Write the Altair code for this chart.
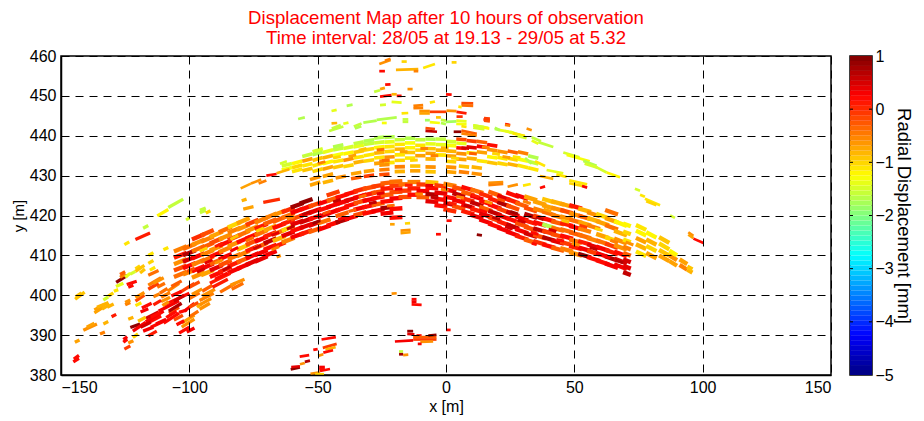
import altair as alt
import pandas as pd

title_lines = ["Displacement Map after 10 hours of observation",
               "Time interval: 28/05 at 19.13 - 29/05 at 5.32"]
x_ticks = [-150, -100, -50, 0, 50, 100, 150]
y_ticks = [380, 390, 400, 410, 420, 430, 440, 450, 460]
bar_ticks = [-5, -4, -3, -2, -1, 0, 1]
jet_domain = [-5, -4.25, -2.75, -1.25, 0.25, 1]
jet_range = ["#00007f", "#0000ff", "#00ffff", "#ffff00", "#ff0000", "#7f0000"]

# single strips: x0, y0, x1, y1, value
far_left = [
(-145.2,383.3,-143,384.2,.2),(-145,384,-143,384.9,.2),(-144.6,388.2,-142.8,388.8,-.7),
(-144.5,399,-140.8,400.8,-.9),(-144.3,399.6,-142,400.6,-.9),(-141.3,391.2,-136,392.8,-.6),
(-140,392,-137,393,-.7),(-137,395.6,-133.5,397,-.7),(-137,396.3,-133,397.7,-.7),
(-136,397,-131.5,398.2,-.8),(-134,396.5,-131,397.7,-.8),(-132,397,-129.5,397.8,-.8),
(-134.8,390.3,-132.9,390.8,-.5),(-133.5,392.8,-131.6,393.4,-.8),(-130.3,394.6,-128.5,395.2,.1),
(-133.5,398.8,-131.6,399.6,-1.5),(-131.6,399.8,-129.6,400.6,-1),(-129.4,401,-127.7,401.4,-1.1),
(-128.6,402.2,-125.7,403,-1.4),(-128.5,403.2,-124.2,405,.9),(-127,404.5,-125,405.3,-.5),
(-127,405.2,-125,405.9,-.3),(-124.4,402.7,-120.5,403.5,.2),(-123.8,402,-121.8,402.5,.2),
(-125,404.5,-123,405.5,-1.4),(-123,405.3,-121,406,-1.5),(-121,406.6,-119.2,407.4,-1),
(-121,406,-117.5,407.5,-.9),(-119.2,405.6,-117.3,406.6,-.9),(-116,410,-114,410.7,-1.1),
(-116,408,-114,408.7,-1),(-115.4,406.3,-113.3,407,-1.1),(-125.3,412.7,-123.4,413.4,-1.1),
(-121,414,-115.3,415.6,.1),(-118,416.8,-116,417.5,-1.6),(-112.5,419.9,-108.2,421.5,-1.2),
(-108.2,422,-102.4,424.1,-1.6),(-101.3,418.9,-99.8,419.4,-1.5),(-95.9,420.7,-93.6,421.3,-1.6),
(-95.9,421.3,-93.6,421.9,-1.6),(-93.6,420.6,-91.8,421.2,-1),(-110.1,411.4,-108.2,412,-1.1),
(-79,421.6,-75,422.2,-.7),(-71.2,423.3,-64.7,424.1,0),(-79.6,423.7,-77.7,424.1,-.8),
(-66,409.6,-64.4,410,-.6),
(-125.7,388.2,-124.2,389,.2),(-125.7,388.9,-124.2,389.6,.3),(-125.3,386.5,-123,387.3,-.1),
(-123.8,388,-121.8,388.6,-.6),(-123.8,394,-121.8,394.5,-.8),(-125,397.6,-123,398.2,-.5),
(-125,398.2,-123,398.8,-.6),
(-122,389.4,-120,390.3,-1),(-123,391.9,-119.2,392.8,.9),(-122,391,-117,393.2,.3),
(-118,392.5,-111,394.8,.2),(-117,393.3,-110,396,.3),(-117,394.2,-112,395.8,.5),
(-115,392,-110,393.5,.2),(-118,391,-114,392,.3),(-116,389.8,-112.7,391,.1),
(-110,393,-104,395.5,.2),(-108,395.5,-104,397,-.2),(-104,390.5,-100,392,.2),
(-103,392,-98,394,-.6),(-103,393,-98,395,-.7),(-104,395.7,-101,396.3,.2),
(-102,396,-98,398,.3),(-112,396,-104,398.6,.3),(-110,397.5,-100,400.5,.2),
(-108,396,-103,398,.7),(-106,398.5,-102,400,.5),(-112.5,402,-109.5,403,-.4),
(-111.5,400.5,-108.5,401.7,-.4),(-111,399.5,-107.5,400.7,-.5),(-111,398.4,-107.5,399.5,-.6),
(-110.5,397.4,-108,398.4,-.6),(-108.5,401,-104,403,-.5),(-104,400.6,-98,403,-.1),
(-116,402.5,-111,404.4,-.5),(-116,401.5,-112,403,-.1),(-116,405,-112,406.2,-.4),
(-121,398.5,-117.5,400,-.2),(-121,399.4,-117.5,400.7,-.6),(-121,397.4,-118.7,398.1,-1.1),
(-118.5,396.8,-114.7,398,.2),(-119,395.8,-116,396.6,.3),(-114,397.6,-111,398.7,.1),
(-97,397,-95,398,-.8),(-96,396.5,-92,398,-.6),(-96,397.6,-91.5,399.2,-.6),
(-96,398.7,-90.5,400.5,-.5),(-95,399.8,-90,401.5,-.6),(-95,401,-91,402.5,-.3),
(-91,402,-85,404,.1),(-92,403,-84,405.5,.1),(-90,404,-85,405.6,.2),(-88,400.8,-82,403,-.4),
(-84,402.5,-78.5,404,-.6),(-83.5,401.5,-79,403,-.4),
(-119,392,-115,393.2,.5),(-115,394.5,-111,395.8,.2),(-113,392.8,-109,394,.3),(-120,393.5,-117,394.5,-.9),
(-109,394.4,-105,396,.2),(-106,393.8,-102.5,395,-.2),(-105,392.6,-102,393.6,.2),(-101,390.8,-98,391.8,.3),
(-100,394.6,-96.5,396,-.4),(-100,397,-96.5,398.2,-.2),(-100,399.2,-96,400.6,-.4),(-99,400.2,-95,401.6,-.6),
(-100,402,-96,403.4,-.2),(-107,402.2,-103,403.6,-.3),(-114,399.6,-111.5,400.4,-.5),(-114,403,-110,404.4,-.6),
(-107,399.8,-103,401,.2),
]

# main band columns: x0, x1, rise over the column, [(y at x0, value), ...]
main_left = [
(-106,-99,1.8,[(404.6,-.4),(406.2,-.2),(407.8,-.6),(409.4,.1),(411,-.5)]),
(-102.5,-95.5,1.8,[(405.2,-.5),(406.8,.2),(408.4,.5),(410,.7),(411.6,-.4)]),
(-99,-92,1.9,[(404.4,-.6),(406,.2),(407.6,-.5),(409.2,.3),(411,-.4),(412.6,-.6),(414,.0)]),
(-95.5,-88.5,1.9,[(405,-.7),(406.6,.3),(408.4,-.4),(410,-.5),(411.8,-.3),(413.4,-.5),(415,-.2)]),
(-92,-85,1.9,[(404.6,.2),(406.2,.4),(407.8,-.3),(409.6,.2),(411.2,-.6),(413,-.2),(414.6,-.7)]),
(-88.5,-81.5,1.9,[(405.8,.1),(407.4,-.2),(409,.3),(410.8,-.5),(412.4,.2),(414,-.6),(415.8,-.4)]),
(-85,-78,1.9,[(405.6,.3),(407.2,.1),(409,-.4),(412.2,-.6),(413.8,-.1),(415.6,-.5),(417,-1)]),
(-81.5,-74.5,1.9,[(406.6,.3),(408.2,-.3),(409.8,-.5),(411.4,-.9),(413.2,.2),(414.8,-.4),(416.4,-.6),(418,-.7)]),
(-78,-71,1.9,[(407.6,.4),(409.2,.3),(411,.1),(412.6,-.2),(414.2,.2),(416,-.6),(417.6,-.1)]),
(-74.5,-67.5,1.9,[(408.4,.4),(410,.3),(411.8,-.3),(413.4,.3),(415,-.4),(416.6,.1),(418.2,-.5)]),
(-71,-64,1.8,[(409.8,.3),(411.4,.2),(413,.6),(414.6,.1),(416.2,-.7),(417.8,-.3),(419.2,-.5)]),
(-67.5,-60.5,1.8,[(412,.1),(413.6,-.8),(415.2,-.4),(416.8,.2),(418.4,-.3),(420,-.6)]),
(-64,-57,1.7,[(413.2,-.5),(414.8,.4),(416.2,-1),(417.8,.1),(419.4,-.4),(420.8,.0)]),
(-60.5,-53.5,1.6,[(414.4,.3),(416,.2),(417.6,.4),(419,-.2),(420.6,.3),(422,.8)]),
(-57,-50,1.6,[(415.2,.1),(416.8,.4),(418.2,.5),(419.8,.2),(421.4,.2),(423,.9)]),
(-53.5,-46.5,1.6,[(415.8,-.3),(417.4,.4),(419,.2),(420.6,.4),(422.2,-.2)]),
(-50,-43,1.5,[(416.4,.3),(418,-.4),(419.6,.4),(421.2,.2),(422.8,.3)]),
(-46.5,-39.5,1.5,[(417.4,.2),(420.4,.3),(422,.3),(423.6,-.3),(425,-.1)]),
(-43,-36,1.4,[(418.2,.7),(419.8,-.3),(421.2,.2),(422.8,.3),(424.4,.2)]),
(-39.5,-32.5,1.3,[(419,.3),(422.2,.2),(423.6,.4),(425.2,.2)]),
(-36,-29,1.2,[(420,-.2),(421.4,.3),(423,-.2),(424.4,.3),(426,.0)]),
(-32.5,-25.5,1,[(420.4,.2),(422,.2),(423.6,.3),(425,.1),(426.6,-.2)]),
(-29,-22,.8,[(421,.3),(422.6,-.3),(424.2,.2),(425.6,-.2),(427.2,-.1)]),
(-25.5,-18.5,.5,[(420.4,.3),(421.8,.8),(423.4,.2),(425,-.3),(426.6,.1),(428,-.3)]),
(-22,-15,.3,[(419.4,.2),(421.6,.2),(424.2,.3),(425.8,-.2),(427.4,-.1),(428.4,-.4)]),
(-18.5,-11.5,.1,[(424.6,-.2),(426.2,-.1),(427.8,-.4)]),
(-15,-8,0,[(425.2,.2),(426.8,.1),(428.4,-.5)]),
(-11.5,-4.5,-.1,[(424.6,-.3),(426.2,.3),(427.8,-.1)]),
(-8,-1,-.3,[(423.6,.4),(425.4,.7),(427,.2),(428.4,-.9)]),
(-4.5,2.5,-.5,[(422.6,.2),(424.2,.2),(425.8,.4),(427.6,-.1)]),
]
main_right = [
(-1,6,-.9,[(421.6,.0),(423.2,.5),(424.8,.2),(426.6,.3),(428,-.5)]),
(2.5,9.5,-1.1,[(422.4,-.2),(424,.3),(425.6,.6),(427.2,-.2)]),
(6,13,-1.3,[(421.2,.1),(422.8,.3),(424.4,.0),(426,-.3),(427.2,.2)]),
(9.5,16.5,-1.4,[(420.2,.4),(421.8,.1),(423.4,.6),(425,.3),(426.6,-.4)]),
(13,20,-1.5,[(419,.3),(420.6,.4),(422.2,-.3),(423.8,.2),(425.6,.0)]),
(16.5,23.5,-1.6,[(418,.2),(419.6,-.1),(421.2,.6),(422.8,.2),(424.4,.1),(426,-.3)]),
(20,27,-1.6,[(417,.3),(418.6,.1),(420.2,.4),(421.8,-.1),(423.4,.7),(425,.4)]),
(23.5,30.5,-1.6,[(416,.3),(417.8,.6),(419.4,.2),(421,.5),(422.6,-.2),(424.2,.1),(425.8,.2)]),
(27,34,-1.5,[(415,.1),(416.6,.3),(418.2,-.2),(419.8,.3),(423.2,-.3),(425.2,.3)]),
(30.5,37.5,-1.4,[(414,-.3),(415.6,.5),(417.2,-.2),(418.8,.1),(420.4,.7),(422,-.2),(424.8,-.7)]),
(34,41,-1.3,[(413.6,.0),(415.2,-.2),(416.8,.6),(418.4,.2),(420,-.1),(421.8,-.5),(423.6,-.7)]),
(37.5,44.5,-1.3,[(412.8,.2),(414.6,.7),(416.2,-.1),(417.8,-1.7),(419.4,.2),(421,-.4),(422.6,-.7),(424.2,-.9)]),
(41,48,-1.2,[(412,-.3),(413.8,.4),(415.4,-.2),(417,-.4),(418.6,-.3),(420.2,-.5),(422,-.6),(423.6,-.8)]),
(44.5,51.5,-1.2,[(411.8,-.5),(413.4,-.1),(415,.2),(416.6,-.4),(418.2,.1),(419.8,-.6),(421.4,-.2),(423,-.7)]),
(48,55,-1.2,[(410.8,-.6),(412.4,.1),(414,-.4),(415.8,-.3),(417.4,.2),(419,-.4),(420.6,-.6),(422.6,.1)]),
(51.5,58.5,-1.3,[(410.4,.9),(412,.3),(413.6,.1),(415.2,-.4),(416.8,-.5),(418.4,-.7),(420,-.3),(421.8,-.8)]),
(55,62,-1.4,[(409.6,.2),(411.2,-.1),(412.8,.4),(414.4,-.5),(417.6,-.5),(419.4,-.8),(420.8,-.6)]),
(58.5,65.5,-1.5,[(408.8,.2),(410.6,.3),(412.2,.3),(413.8,-.4),(415.4,-.7),(418.6,-.7),(420.4,-1)]),
(62,69,-1.6,[(408,.3),(409.8,.7),(411.4,.1),(413,-.1),(414.6,-1),(417.6,-.4),(419.4,-.7),(421.4,-.4)]),
(65.5,72.5,-1.7,[(407.8,.3),(409.2,.5),(411,.2),(412.6,-.6),(414.2,-.6),(416.2,-.8),(418.6,-1.2)]),
(69,74,-1.2,[(405.8,.6),(407.4,.4),(409,.5),(410.6,-.3),(412.2,-.5),(414,-1.1),(416,-1),(418,-1.2)]),
(74,80,-1.8,[(411,-1.1),(412.8,-.8),(414.4,-.7),(416.2,-1.2),(417.6,-1.1)]),
(78,84,-2,[(410.6,-.7),(412.4,-1),(414,-.8),(415.8,-1.2)]),
(83,89,-2.2,[(410,-.7),(411.4,-.9),(413,-1),(414.6,-.9)]),
(87,92,-2,[(408.6,-.7),(410,-.6),(411.2,-1.2)]),
(91,96,-2,[(407.6,-.5),(409,-.7)]),
(94,98,-1.4,[(406.4,-.8),(407.2,-.9)]),
]

# yellow-green upper arch: same format
arch = [
(-64,-58,1,[(431.4,-1.3),(432.4,-1.5)]),
(-60,-54,1,[(431,-1.1),(432,-1),(433,-1.2)]),
(-56,-50,1,[(431.2,-.9),(432.4,-1.1),(433.6,-.7),(434.8,-1.6)]),
(-52,-46,1.1,[(431,-1),(432.4,-1.1),(433.8,-.9),(435.2,-1.7),(436,-1.5)]),
(-48,-42,1,[(431.6,-.7),(433,-1.2),(434.4,-.8),(435.8,-1.4)]),
(-44,-38,.8,[(432,-.9),(433.4,-1.1),(435,-1.3),(436.4,-1.6),(437.2,-1.7)]),
(-40,-34,.8,[(432.2,-1),(433.8,-.6),(435.4,-1.2),(436.8,-1.5)]),
(-36,-30,.7,[(433.2,-.8),(434.4,-1.1),(435.8,-.9),(437.2,-1.4),(438,-1.6)]),
(-32,-26,.6,[(433.6,-1),(435,-1.1),(436.4,-1),(437.8,-1.6),(438.6,-1.7)]),
(-28,-22,.4,[(433,-.7),(434.4,-1.1),(435.6,-.8),(437,-1.2),(438.2,-1.5),(439.4,-1.7)]),
(-24,-18,.2,[(433.2,-1.1),(434.6,-.6),(436,-1),(437.2,-1.1),(438.4,-1.4),(439.6,-1.7)]),
(-20,-14,.1,[(433.8,-1),(435.2,-1.1),(436.6,-.8),(437.8,-1.1),(439,-1.6)]),
(-16,-10,0,[(434.4,-1.1),(435.8,-.9),(437,-1.2),(438.2,-1.3),(439.4,-1.7)]),
(-12,-6,0,[(435,-.7),(436.4,-1),(437.6,-1.1),(439,-1.6)]),
(-8,-2,-.1,[(434.2,-.8),(435.6,-.7),(436.8,-.9),(438,-1.4),(439.2,-1.7)]),
(-4,2,-.1,[(435.2,-1.1),(436.4,-.8),(437.8,-1.4),(439.2,-1.6)]),
(0,6,-.2,[(435,-.7),(436.2,-.8),(437.6,-1.3),(438.6,-1.5)]),
(4,10,-.3,[(434.2,-.7),(435.6,-.6),(437,.2),(438.2,-1.4),(439.2,-.2)]),
(8,14,-.4,[(434.4,-.8),(435.8,-1.1),(437.2,.4),(438.8,-.1)]),
(12,18,-.5,[(433.8,-1.1),(436,-.7),(437.4,.3),(438.6,-.3)]),
(16,22,-.6,[(433.4,-.9),(434.8,-1.2),(436.6,-.6),(437.8,.2)]),
(20,26,-.7,[(433.2,-1),(434.6,-1.1),(436.2,-.6)]),
(24,30,-.8,[(433,-.8),(434.4,-1),(436.2,-.3)]),
(28,34,-.9,[(432.6,-1.1),(434.2,-1.3),(436,-.5)]),
(32,38,-1,[(432,-1.1),(433.6,-1.6),(435,-1.7)]),
]

# orange lower arch: same format
lower_arch = [
(-53,-47,1.2,[(427.6,-.7),(429,-.6)]),
(-48,-42,1,[(428.2,-.8),(429.8,-.7)]),
(-43,-37,.8,[(429.4,-.6)]),
(-37,-31,.7,[(429.2,-.3),(430.4,-.7)]),
(-32,-26,.5,[(429.8,-.1),(431,-.7)]),
(-26,-20,.3,[(430.2,-.2),(431.4,-.5),(432.6,-.6),(433.6,-.5)]),
(-20,-14,.1,[(431,-.8),(432.2,-.5)]),
(-14,-8,0,[(431.2,-.7),(432.4,-.9)]),
(-8,-2,-.1,[(431,-.9),(432.2,-.6)]),
(0,6,-.3,[(431,-.7),(432.2,-.6),(433.6,-1)]),
(5,11,-.4,[(431,-.5),(432.4,-.9)]),
(10,16,-.5,[(430.6,-.6),(432.2,-.8)]),
]

# short cells that sit between the column rows of the main band
band_cells = [
(-101,406,-98,406.8,-.2),(-97,405.8,-94,406.7,.5),(-94,408,-91,408.9,.4),(-90,408,-87,408.9,-.6),(-87,406.2,-84,407.2,.6),
(-96,411,-93,411.9,-1),(-90,412.2,-87,413.1,.1),(-84,411,-81,412,.3),(-84,414,-81,415,-.9),(-78,413.6,-75,414.5,-.4),
(-75,411.6,-72,412.5,.5),(-74,416,-71,416.9,-1),(-68,415,-65,415.8,.4),(-68,411.4,-65,412.2,-.5),(-62,416.6,-59,417.4,.6),
(-62,419,-59,419.7,-.5),(-56,420.2,-53,420.9,.6),(-52,418,-49,418.7,.8),(-48,420.4,-45,421.1,-.2),(-44,423.4,-41,424,.6),
(-42,419,-39,419.6,.3),(-38,421,-35,421.5,-.3),(-34,424.6,-31,425.1,-.4),(-30,423,-27,423.4,.6),(-27,425.4,-24,425.7,.4),
(-23,422.4,-20,422.6,-.4),(-20,426.6,-17,426.7,.3),(-16,427.6,-13,427.6,.1),(-12,425.4,-9,425.4,-.5),(-8,427.6,-5,427.5,.4),
(-6,424.6,-3,424.4,.6),(-2,426.6,1,426.3,-.5),(1,423.2,4,422.8,.1),(4,424.8,7,424.4,-.5),(7,422.6,10,422.2,.6),
(10,425.2,13,424.6,.1),(13,421.4,16,420.8,.2),(15,423.6,18,423,-.6),(18,419.6,21,419,.6),(20,424.2,23,423.6,-.2),
(23,417.2,26,416.6,.5),(25,421,28,420.4,.8),(28,418.8,31,418.2,.5),(30,423.6,33,423,-.5),(33,415.8,36,415.3,.2),
(35,419.6,38,419,.6),(38,421.6,41,421,-.7),(40,416.6,43,416,.5),(43,414,46,413.6,.2),(45,418.8,48,418.3,-.9),
(49,413,52,412.5,-.6),(52,417.6,55,417,-.1),(56,412,59,411.4,.6),(58,416.8,61,416.2,-1),(61,410,64,409.4,.3),
(64,413.8,67,413.1,-.5),(66,408.8,69,408.1,.7),(70,413.4,73,412.6,-.6),
]
arch_cells = [
(-50,433,-47,433.5,-.5),(-44,434.4,-41,434.8,-1),(-38,434.8,-35,435.2,-.7),(-34,436.4,-31,436.8,-.9),(-27,436.4,-24,436.6,-.4),
(-25,433.8,-22,433.9,-.4),(-18,436,-15,436,-.7),(-14,433.8,-11,433.9,-1),(-10,436.8,-7,436.8,-.5),(-6,435,-3,435,-.5),
(-2,437,1,436.9,-.8),(2,434.4,5,434.3,-1),(6,437,9,436.8,.5),(9,435.6,12,435.4,-.3),(14,437.2,17,437,-.5),(18,435.6,21,435.3,-1),
(22,434.8,25,434.5,-.7),(26,434.8,29,434.5,-1.1),
]

arch_extra = [
(-66,430.6,-61,431.6,-.8),(-70,430,-66,430.4,.2),(-73,428,-70,428.8,-.5),
(-80,426.8,-76,428,-.7),(-76,428,-72,429,-.6),
(-64.7,433,-62,433.6,-1.5),
(16.5,428.2,22.3,428.4,-.6),(16.5,427.6,22.3,427.9,-.5),(24,427.2,28,427.8,-.6),(30,427.5,33,427.9,-1.1),(36.6,426.9,38.6,427.3,.2),
(36.6,429.9,41.8,429.2,-.8),(39.2,431.4,45.7,430.6,-1.4),(43,430.3,47,429.7,-1.1),(48,428.8,55,427.8,-1.1),(48,428.1,54,427.3,-1),(53,427.4,55,427,.3),
(45.7,435.8,52,434.6,-1.5),(47,435.2,56,433.6,-1.3),(53.5,433.7,58.7,432.5,-1.7),(54,433,59,432,-1.5),(57.4,432.5,62.6,430.8,-1.5),(62.6,430.8,67.8,429.6,-1.2),
(73.6,426.7,75.6,426.2,-1.5),(75.6,425.2,77.5,424.7,-1.1),(77.5,424.2,83.4,422.6,-1.1),(78,423.6,82,422.6,-1),
(87.3,420,89.2,419.4,-1.5),(94.4,415.8,96.4,414.9,-.6),(94.4,415.2,96.4,414.3,-.7),(96.4,414.2,100.3,413.1,.2),
(33.4,439.6,37,438.6,-1.6),(36,438.4,41.8,437.2,-1.6),(33.4,438.8,36,438,-1.4),
(10.6,442.6,16.5,442,-1.5),(10.6,442,15,441.6,-1.5),(19,442,21,441.4,-1.7),(23,441.2,30.8,439.8,-1.2),(25,441,29,440.2,-1.6),
(31.4,441.8,33.4,441.4,-.6),(23,442.9,25,442.7,.1),(14.6,444.1,17,443.9,.2),
(30.8,434.4,33.4,433,-1.7),(34.7,433.6,38.6,432.4,-1.1),
(-8,441.9,-4.3,441.7,-.2),(-8,441.2,-3.5,441,.6),
(3,441,6,441,.9),(6,441.3,12,440.5,-.3),(6,440.6,12,440,-.5),
]

sparse_top = [
(-26,458,-21.6,459,-.6),(-23.8,458.8,-21.6,459.3,-.5),(-17.3,458.6,-15.3,458.6,-1),(-8.9,457,-4.3,458,-1.1),
(2.2,458.4,4.1,458.4,-1),(-19.5,456.5,-10.8,456.7,-.8),(-12.6,456.2,-10.8,456.2,-.5),(-26,456.2,-23.8,456.2,.2),
(-23.7,452.8,-21.6,452.9,.2),(-28,451,-25.7,451.4,-1.6),(-25.7,451.7,-23.8,452,-.7),(-15,451.7,-13,451.7,-.6),
(-25.7,449.8,-21.2,450.2,.2),(-21.2,450.4,-19.2,450.4,-.8),(-19.2,450,-17.3,450,.2),(0,450.4,2.2,450.3,.2),
(-25.7,447.7,-23.4,447.8,-1.5),(-21.2,448.5,-17.3,448.3,-1.4),(-6.3,448.3,-4.3,448.6,-1.1),(6,448.2,10.6,448.1,-.2),
(6,447.6,10.6,447.5,-.4),(4.8,447.3,6.1,447.2,-1.1),(-12.7,447.5,-8.9,447.7,-.5),(-12.7,446.9,-8.9,447,-.5),
(-10.4,446.2,-6.3,446.2,-.6),(-10.4,445.6,-6.3,445.6,-.7),(-6.3,446,0.2,446,-.1),(0.2,446.3,4.1,446.2,-.6),(4.1,446,8,445.6,.1),
(-17.3,445.6,-14.7,445.7,-1.1),(-44.6,446.2,-42.6,446.5,-1.4),(-38.7,447.5,-36.4,447.8,-1.7),(-57.6,444.2,-55,444.6,-1.7),
(4.1,444.8,6.5,444.8,0),(14.8,444.4,17.1,444.3,-.1),(14.8,443.8,17.1,443.6,-.2),(-45.5,441.2,-40,442.3,-1.6),
(-44.5,441.8,-41,442.7,-1.6),(-40,443,-38,443.3,-1.4),(-44.6,443.1,-42.4,443.2,-.8),(-35.9,442.3,-32.9,443.1,-1.6),
(-35.5,441.8,-33,442.4,-1.7),(-32.2,443.3,-27,443.8,-1.7),(-27,444,-19.2,444.6,-1.7),(-25,443.2,-23.1,443.2,-1.3),
(-16.9,444.1,-14.7,444.1,-1.6),(-16.9,443.5,-14.7,443.5,-1.6),(-8.2,443.9,-6.3,443.9,-1.8),(-6.3,443.4,-2.4,443.2,-1.3),
(-3.9,444.6,-2,444.6,-.9),(-2,444,0,443.8,-1.6),(-2,443.2,0,442.9,-1.7),(0,443.5,4.1,443.6,-1.8),(4,443.8,8,443.6,-1.4),
(4,443,8,442.9,-1.3),(6,442.4,8,442.2,-1.1),(10.6,442.6,14.8,442.2,-1.5),(14.8,442,16.9,441.8,-1.2),(19,441.7,21,441.4,-1.7),
(21,441.4,26.2,440.8,-1.4),(26,440.6,30.7,440,-1.1),(23,442.7,25,442.5,-.5),(27.2,440,31.4,439.4,-1.5),
]

below = [
(-21.8,417.8,-20,417.8,-.7),(-16,418,-14,418.1,-1),(-17.7,416.2,-13.8,416.4,-.6),(-17.7,415.6,-13.8,415.8,-.7),
(-3.9,415.3,-2,415.3,.2),(0.2,418.7,2.2,418.7,.2),(12,415.2,14,415,.9),(33.4,413,35.3,412.7,.2),
(-21.2,400.4,-19.2,400.5,-.6),(-13.4,399,-11.5,399,.2),(-13.4,398.4,-11.5,398.4,.3),(-13.4,397.7,-9.5,397.6,.2),
(-15.1,391,-12.8,391,.9),(-15.1,390.3,-12.3,390.2,.4),(-11.5,389.9,-9.5,389.9,.2),(-19.9,388.4,-12.8,388.7,.3),
(-12.8,389.5,-3.7,389.5,-.3),(-12.8,388.9,-3.7,388.9,-.1),(-10,388.3,-5,388.4,-.6),(-6.9,389.9,-3.7,390.1,.9),
(-11,387.8,-9.5,387.8,.3),(0,391.3,1.8,391.3,.2),(-18.3,385.9,-16.7,385.9,-1.6),(-18.3,385.2,-16.7,385.2,.8),
(-16.7,385,-14.7,385.1,-.6),(-48.5,388.9,-42.9,389.5,.2),(-51.7,386.3,-50,386.5,.2),(-48,386.8,-42.6,387.8,-.1),
(-47,386.4,-43,387,-.8),(-49.8,384.8,-47.8,385.2,-.6),(-47.8,385.6,-44,386.2,.2),(-57,384.6,-53.3,385,.2),
(-56.9,382.7,-55,383,-.6),(-55,383.3,-53,383.6,.7),(-60.5,381.4,-56.9,381.9,.9),(-60.3,382,-56.9,382.2,.4),
(-49.4,382,-47.2,382,.3),(-49.4,381.4,-47.2,381.5,.2),(-52.8,380.3,-49.1,380.7,-.6),(-49.1,381,-45.2,381.5,.2),
(-51,380.2,-47.5,380.2,-1),
]

CELL_TRIM = 2.0  # metres left open at the end of each column strip


def strip_rows(groups):
    return pd.DataFrame([dict(x0=x0, y0=y0, x1=x1, y1=y1, v=v)
                         for g in groups for x0, y0, x1, y1, v in g])


def column_rows(groups):
    out = []
    for g in groups:
        for x0, x1, rise, strips in g:
            w = x1 - x0
            for y, v in strips:
                out.append(dict(x0=x0, y0=y, x1=x1 - CELL_TRIM, y1=y + rise * (w - CELL_TRIM) / w, v=v))
    return pd.DataFrame(out)


color_scale = alt.Scale(domain=jet_domain, range=jet_range, interpolate="rgb")
font = "Liberation Sans"

x_enc = alt.X("x0:Q", scale=alt.Scale(domain=[-150, 150], nice=False),
              axis=alt.Axis(values=x_ticks, title="x [m]", format="d", grid=True, gridDash=[8, 6],
                            gridColor="#000", gridOpacity=1, zindex=1, tickSize=0, labelPadding=4,
                            titlePadding=3, titleFontSize=16, domainColor="#000", domainWidth=1.5))
y_enc = alt.Y("y0:Q", scale=alt.Scale(domain=[380, 460], nice=False, zero=False),
              axis=alt.Axis(values=y_ticks, title="y [m]", format="d", grid=True, gridDash=[8, 6],
                            gridColor="#000", gridOpacity=1, zindex=1, tickSize=0, labelPadding=5,
                            titlePadding=3, domainColor="#000", domainWidth=1.5))
color_enc = alt.Color("v:Q", scale=color_scale, legend=None)


def strip_layer(data, width):
    return alt.Chart(data).mark_rule(strokeWidth=width, clip=True).encode(
        x=x_enc, y=y_enc, x2="x1:Q", y2="y1:Q", color=color_enc)


main = alt.layer(
    strip_layer(column_rows([main_left, main_right]), 4.3),
    strip_layer(column_rows([arch, lower_arch]), 3.6),
    strip_layer(strip_rows([band_cells, arch_cells]), 3),
    strip_layer(strip_rows([far_left]), 3.3),
    strip_layer(strip_rows([arch_extra, sparse_top, below]), 2.7),
).properties(
    width=770, height=319,
    title=alt.TitleParams(text=title_lines, color="#ff0000", fontSize=18.6, fontWeight="normal",
                          font=font, anchor="middle", offset=0, lineHeight=20),
)

levels = pd.DataFrame([{"lo": -5 + i * 6 / 64, "hi": -5 + (i + 1) * 6 / 64} for i in range(64)])
levels["mid"] = (levels.lo + levels.hi) / 2
bar_scale = alt.Scale(domain=[-5, 1], nice=False, zero=False)
bar_axis = alt.Axis(values=bar_ticks, orient="right", title="Radial Displacement [mm]",
                    tickSize=0, domain=False, labelPadding=3, titlePadding=0, minExtent=0,
                    titleFontSize=18.5, grid=False, format="d")
bar_rect = alt.Chart(levels).mark_rect().encode(
    x=alt.value(0), x2=alt.value(22),
    y=alt.Y("lo:Q", scale=bar_scale, axis=bar_axis), y2="hi:Q",
    color=alt.Color("mid:Q", scale=color_scale, legend=None),
)
tick_df = pd.DataFrame({"t": bar_ticks[1:-1]})
tick_l = alt.Chart(tick_df).mark_rule(color="#000").encode(
    x=alt.value(0), x2=alt.value(3), y=alt.Y("t:Q", scale=bar_scale, axis=bar_axis))
tick_r = alt.Chart(tick_df).mark_rule(color="#000").encode(
    x=alt.value(19), x2=alt.value(22), y=alt.Y("t:Q", scale=bar_scale, axis=bar_axis))
bar = alt.layer(bar_rect, tick_l, tick_r).properties(width=22, height=319)

chart = alt.hconcat(main, bar, spacing=15).resolve_scale(color="independent").properties(
    padding={"left": 2, "top": 0, "right": 0, "bottom": 0}, background="#ffffff"
).configure_view(stroke="#000", strokeWidth=1.5).configure_axis(
    labelFont=font, titleFont=font, labelFontSize=16, titleFontSize=15, labelColor="#000", titleColor="#000",
    titleFontWeight="normal",
)
chart.save("out.html", embed_options={"renderer": "svg", "actions": False})
